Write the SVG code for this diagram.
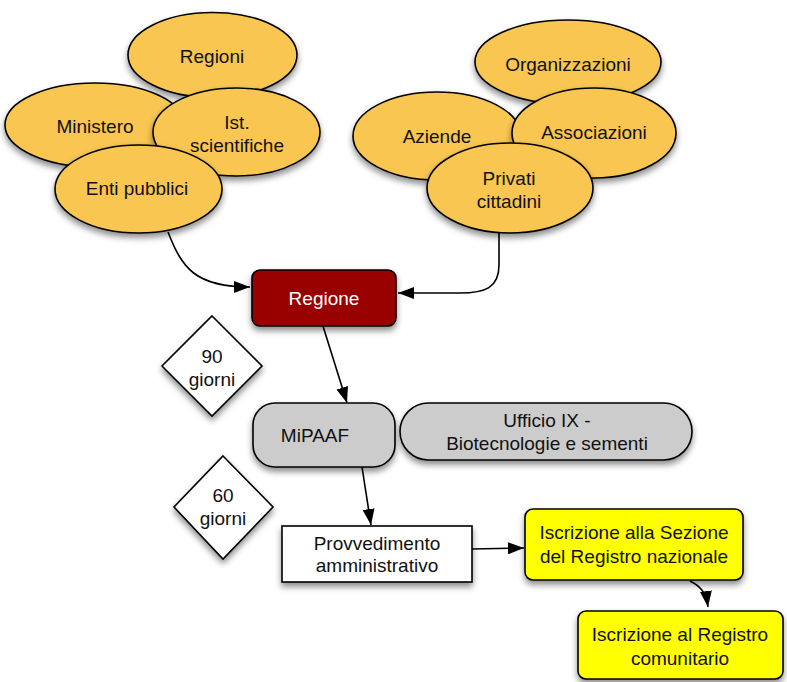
<svg xmlns="http://www.w3.org/2000/svg" width="787" height="682" viewBox="0 0 787 682">
<defs>
<filter id="sh" x="-20%" y="-20%" width="140%" height="150%">
<feDropShadow dx="0" dy="4" stdDeviation="3" flood-color="#000" flood-opacity="0.45"/>
</filter>
<marker id="ah" viewBox="0 0 16 12" refX="16" refY="6" markerWidth="16" markerHeight="12" markerUnits="userSpaceOnUse" orient="auto">
<path d="M0,0 L16,6 L0,12 Z" fill="#000"/>
</marker>
</defs>
<style>
.ell{fill:#F8C651;stroke:#000;stroke-width:1.6;filter:url(#sh)}
.t{font-family:"Liberation Sans",Arial,sans-serif;font-size:19px;fill:#111;text-anchor:middle}
.w{fill:#fff}
.c{fill:none;stroke:#000;stroke-width:1.6;marker-end:url(#ah)}
.box{stroke:#000;stroke-width:1.6;filter:url(#sh)}
</style>
<g id="regioni"><ellipse class="ell" cx="212.5" cy="55" rx="84.5" ry="42.5"/><text class="t" x="212" y="63">Regioni</text></g>
<g id="ministero"><ellipse class="ell" cx="95" cy="125" rx="90" ry="42"/><text class="t" x="95" y="133">Ministero</text></g>
<g id="ist"><ellipse class="ell" cx="236.5" cy="132" rx="83.5" ry="44"/><text class="t" x="237" y="129">Ist.</text><text class="t" x="237" y="152">scientifiche</text></g>
<g id="enti"><ellipse class="ell" cx="138.5" cy="189" rx="83.5" ry="44"/><text class="t" x="137" y="195">Enti pubblici</text></g>
<g id="organizzazioni"><ellipse class="ell" cx="568" cy="62" rx="93" ry="42"/><text class="t" x="568" y="71">Organizzazioni</text></g>
<g id="aziende"><ellipse class="ell" cx="437" cy="136" rx="84" ry="44"/><text class="t" x="437" y="143">Aziende</text></g>
<g id="associazioni"><ellipse class="ell" cx="594" cy="133" rx="82" ry="45"/><text class="t" x="594" y="139">Associazioni</text></g>
<g id="privati"><ellipse class="ell" cx="510" cy="188" rx="83" ry="45"/><text class="t" x="509" y="185">Privati</text><text class="t" x="509" y="208">cittadini</text></g>
<g id="regione"><rect class="box" x="252" y="270" width="144" height="56" rx="8" fill="#990000"/><text class="t w" x="324" y="305">Regione</text></g>
<g id="g90"><polygon points="212,316 262,366 212,416 162,366" fill="#fff" stroke="#000" stroke-width="1.6" filter="url(#sh)"/><text class="t" x="212" y="363">90</text><text class="t" x="212" y="386">giorni</text></g>
<g id="mipaaf"><rect class="box" x="253" y="403" width="142" height="64" rx="22" fill="#CCCCCC"/><text class="t" x="315" y="442">MiPAAF</text></g>
<g id="ufficio"><rect class="box" x="400" y="403" width="292" height="57" rx="28.5" fill="#CCCCCC"/><text class="t" x="547" y="427">Ufficio IX -</text><text class="t" x="547" y="450">Biotecnologie e sementi</text></g>
<g id="g60"><polygon points="223,456 273,507 223,559 174,507" fill="#fff" stroke="#000" stroke-width="1.6" filter="url(#sh)"/><text class="t" x="223" y="502">60</text><text class="t" x="223" y="525">giorni</text></g>
<g id="provvedimento"><rect class="box" x="282" y="526" width="190" height="56" fill="#fff"/><text class="t" x="377" y="550">Provvedimento</text><text class="t" x="377" y="572">amministrativo</text></g>
<g id="sezione"><rect class="box" x="525" y="509" width="218" height="71" rx="8" fill="#FFFF00"/><text class="t" x="634" y="539">Iscrizione alla Sezione</text><text class="t" x="634" y="563">del Registro nazionale</text></g>
<g id="comunitario"><rect class="box" x="578" y="611" width="205" height="68" rx="8" fill="#FFFF00"/><text class="t" x="680" y="641">Iscrizione al Registro</text><text class="t" x="680" y="665">comunitario</text></g>
<g id="connectors">
<path class="c" d="M168,232 C182,268 195,287 250,287"/>
<path class="c" d="M499,233 L499,265 C499,288 485,293 460,293 L398,293"/>
<path class="c" d="M323,326 L347,403"/>
<path class="c" d="M362,467 L371,525"/>
<path class="c" d="M472,549 L524,548"/>
<path class="c" d="M690,581 C700,586 706,592 708,607"/>
</g>
</svg>
